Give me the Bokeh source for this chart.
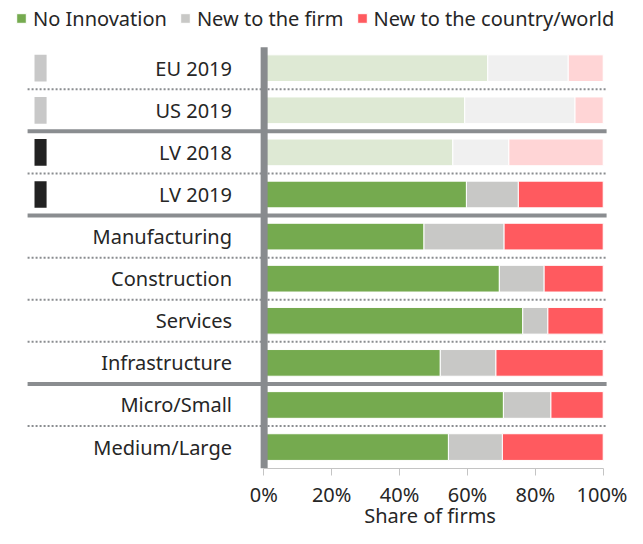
from bokeh.plotting import figure
from bokeh.models import Range1d, FixedTicker, Legend, LegendItem, Label, ColumnDataSource
from bokeh.embed import file_html
from bokeh.resources import INLINE
from bokeh.core.properties import value

# ---- data ----
categories = ["EU 2019", "US 2019", "LV 2018", "LV 2019", "Manufacturing",
              "Construction", "Services", "Infrastructure", "Micro/Small", "Medium/Large"]
no_innovation = [66.0, 59.2, 55.7, 59.7, 47.2, 69.4, 76.3, 52.0, 70.6, 54.4]
new_to_firm = [23.7, 32.5, 16.5, 15.3, 23.6, 13.2, 7.4, 16.4, 14.0, 15.9]
new_to_world = [10.3, 8.3, 27.8, 25.0, 29.2, 17.4, 16.3, 31.6, 15.4, 29.7]
faded = [True, True, True, False, False, False, False, False, False, False]
marker_colors = ["#c8c8c8", "#c8c8c8", "#222222", "#222222"]
separator_styles = ["dotted", "solid", "dotted", "solid", "dotted",
                    "dotted", "dotted", "solid", "dotted"]
series_names = ["No Innovation", "New to the firm", "New to the country/world"]
tick_values = [0, 20, 40, 60, 80, 100]
tick_labels = ["0%", "20%", "40%", "60%", "80%", "100%"]
x_label = "Share of firms"

# ---- styles ----
FULL = ["#75aa4f", "#c8c8c6", "#ff5a5f"]
LIGHT = ["#dee9d4", "#f0f0f0", "#ffd5d6"]
FONT = "Noto Sans"
FS = "20px"
TXT = "#262626"
SEP = "#8a8d90"
BAR_H = 0.634

n = len(categories)
ys = list(range(n))

p = figure(width=627, height=528, output_backend="svg", toolbar_location=None,
           x_range=Range1d(-77.58, 107.16), y_range=Range1d(10.934, -1.608),
           y_axis_location=None, min_border_left=0, min_border_right=0,
           min_border_top=0, min_border_bottom=0)
p.grid.visible = False
p.outline_line_color = None

# stacked bars
lefts = [0.0] * n
renderers = []
for k, vals in enumerate([no_innovation, new_to_firm, new_to_world]):
    rights = [l + v for l, v in zip(lefts, vals)]
    colors = [LIGHT[k] if f else FULL[k] for f in faded]
    src = ColumnDataSource(dict(y=ys, left=lefts, right=rights, color=colors))
    r = p.hbar(y="y", left="left", right="right", height=BAR_H, source=src,
               fill_color="color", line_color="white", line_width=1)
    renderers.append(r)
    lefts = rights

# separators between rows
solid_y = [i + 0.5 for i, s in enumerate(separator_styles) if s == "solid"]
dot_y = [i + 0.5 for i, s in enumerate(separator_styles) if s == "dotted"]
p.segment(x0=-69.6, x1=101.0, y0=solid_y, y1=solid_y, line_color=SEP, line_width=4)
p.segment(x0=-69.6, x1=101.0, y0=dot_y, y1=dot_y, line_color=SEP, line_width=2,
          line_dash="2 2")

# thick vertical baseline
p.segment(x0=[0.1], x1=[0.1], y0=[-0.5], y1=[n - 0.5], line_color="#888b8e",
          line_width=7)

# row labels
p.text(x=-9.37, y=ys, text=categories, text_align="right", text_baseline="middle",
       text_font=value(FONT), text_font_size=FS, text_color=TXT)

# markers at left
p.hbar(y=ys[:len(marker_colors)], left=-67.56, right=-64.0, height=BAR_H,
       fill_color=marker_colors, line_color=None)

# legend
items = [LegendItem(label=series_names[k], renderers=[renderers[k]], index=3)
         for k in range(3)]
legend = Legend(items=items, orientation="horizontal", location=(15, 496),
                margin=0, padding=0, spacing=12, label_standoff=6,
                glyph_width=12, glyph_height=12, label_height=28,
                border_line_color=None, background_fill_alpha=0,
                label_text_font=FONT, label_text_font_size=FS,
                label_text_color=TXT)
p.add_layout(legend)

# x axis (drawn at the bottom edge of the bars)
ax = p.xaxis[0]
ax.fixed_location = n - 0.5
ax.ticker = FixedTicker(ticks=tick_values)
ax.major_label_overrides = {v: l for v, l in zip(tick_values, tick_labels)}
ax.bounds = (0, 100)
ax.axis_line_color = "#c4c4c4"
ax.major_tick_line_color = "#c4c4c4"
ax.major_tick_out = 7
ax.major_tick_in = 0
ax.minor_tick_line_color = None
ax.major_label_text_font = FONT
ax.major_label_text_font_size = FS
ax.major_label_text_color = TXT
ax.major_label_standoff = 6

p.add_layout(Label(x=49, y=10.62, x_units="data", y_units="data", text=x_label,
                   text_align="center", text_baseline="alphabetic",
                   text_font=FONT, text_font_size=FS, text_color=TXT))

open("out.html", "w").write(file_html(p, INLINE))
